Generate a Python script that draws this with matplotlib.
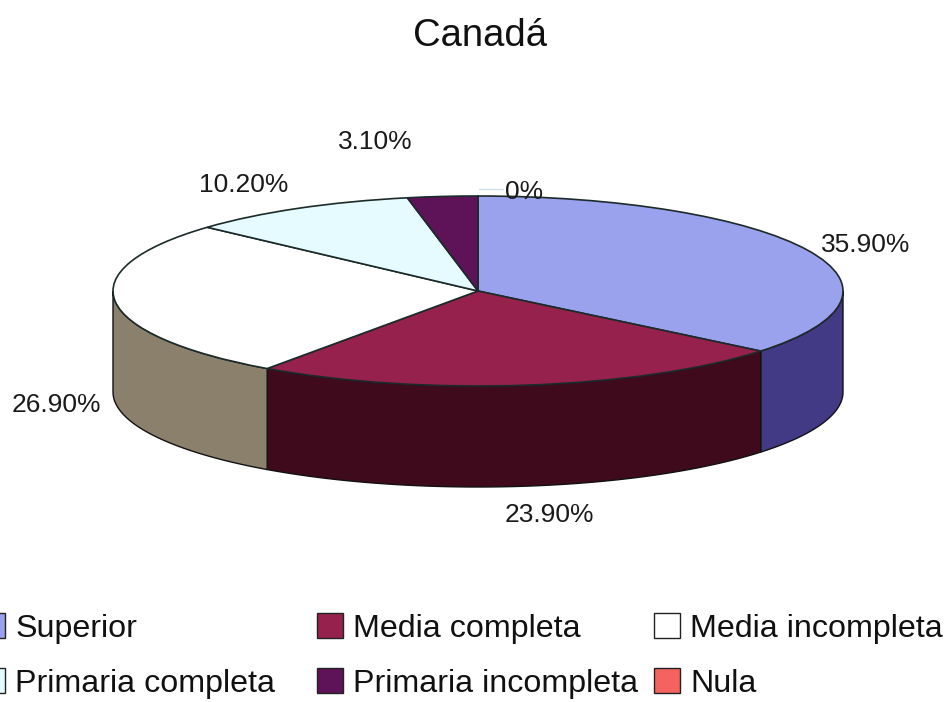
import numpy as np
import matplotlib
matplotlib.use('Agg')
import matplotlib.pyplot as plt
from matplotlib.patches import Patch

plt.rcParams['font.family'] = ['Liberation Sans', 'DejaVu Sans']

categories = ['Superior', 'Media completa', 'Media incompleta',
              'Primaria completa', 'Primaria incompleta', 'Nula']
values = [35.9, 23.9, 26.9, 10.2, 3.1, 0.0]
labels = ['35.90%', '23.90%', '26.90%', '10.20%', '3.10%', '0%']
colors = ['#9aa2ee', '#96214c', '#ffffff', '#e6fbff', '#5e1257', '#f4635f']
side_colors = ['#433a85', '#3f0a1c', '#8b806c', '#8b806c', '#3f0a1c', '#8f3a38']

W, H = 949, 702
cx, cy = 478, 291   # pie centre in pixels
rx, ry = 365, 95    # ellipse radii in pixels
depth = 101         # height of the side wall in pixels

fig = plt.figure(figsize=(W / 100, H / 100), dpi=100)
ax = fig.add_axes([0, 0, 1, 1])

# side wall, only the front half of the ellipse shows
drop = depth / ry
edges = 90 - np.cumsum([0] + values) * 3.6
for i in range(len(values)):
    a0 = min(edges[i], 0)
    a1 = max(edges[i + 1], -180)
    if a0 <= a1:
        continue
    t = np.radians(np.linspace(a0, a1, 80))
    xs = np.cos(t)
    ys = np.sin(t)
    ax.fill(np.r_[xs, xs[::-1]], np.r_[ys, ys[::-1] - drop],
            facecolor=side_colors[i], edgecolor='#111111', lw=1.0, zorder=1)

# top of the pie
wedges, _ = ax.pie(values, colors=colors, startangle=90, counterclock=False,
                   radius=1, frame=True,
                   wedgeprops=dict(edgecolor='#1c2a2a', linewidth=1.2, zorder=2))
ax.set_aspect('auto')
ax.set_xlim(-cx / rx, (W - cx) / rx)
ax.set_ylim(-(H - cy) / ry, cy / ry)
ax.axis('off')


def to_data(px, py):
    return (px - cx) / rx, (cy - py) / ry


# labels sit where the original placed them
label_pos = [(866, 245), (549, 515), (56, 405), (244, 185), (375, 142), (524, 192)]
for text, (px, py) in zip(labels, label_pos):
    x, y = to_data(px, py)
    ax.text(x, y, text, fontsize=19, ha='center', va='center', color='#1a1a1a', zorder=4)

# thin leader for the 0% slice
x0, y0 = to_data(479, 189)
x1, y1 = to_data(503, 189)
ax.plot([x0, x1], [y0, y1], color='#c9dbe6', lw=0.8, zorder=3)

x, y = to_data(480, 36)
ax.text(x, y, 'Canadá', fontsize=27.5, ha='center', va='center', color='#111111')

# one small legend per column, their gaps are uneven in the reference
column_x = [-21, 317, 654]
for col, left in enumerate(column_x):
    idx = [col, col + 3]
    handles = [Patch(facecolor=colors[i], edgecolor='#222222', linewidth=1) for i in idx]
    leg = fig.legend(handles, [categories[i] for i in idx], ncol=1, frameon=False, fontsize=23.2,
                     loc='lower left', bbox_to_anchor=(left / W, 3 / H),
                     borderaxespad=0, borderpad=0, handlelength=0.8, handleheight=0.8,
                     handletextpad=0.32, labelspacing=0.76)
    for t in leg.get_texts():
        t.set_color('#111111')

fig.savefig('out.png', dpi=100)
